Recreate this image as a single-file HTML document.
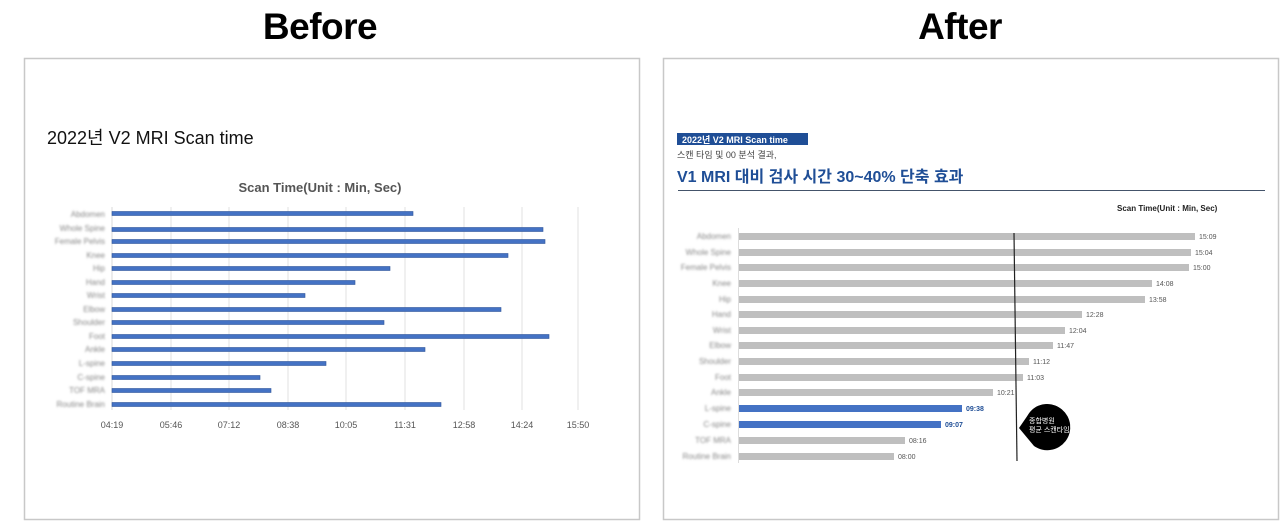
<!DOCTYPE html>
<html><head><meta charset="utf-8"><style>
body{margin:0;width:1280px;height:521px;background:#fff;overflow:hidden;position:relative;font-family:"Liberation Sans","Noto Sans CJK KR",sans-serif}
.h{position:absolute;top:6px;font-size:37px;font-weight:bold;color:#000;width:300px;text-align:center;letter-spacing:-0.5px}
</style></head><body>
<div class="h" style="left:170px">Before</div>
<div class="h" style="left:810px">After</div>
<svg width="1280" height="521" style="position:absolute;left:0;top:0" xmlns="http://www.w3.org/2000/svg" font-family="Liberation Sans, Noto Sans CJK KR, sans-serif">
<defs><filter id="b" x="-10%" y="-50%" width="120%" height="200%"><feGaussianBlur stdDeviation="1.1"/></filter></defs>
<rect x="24.5" y="58.5" width="615" height="461" fill="none" stroke="#c8c8c8" stroke-width="1.5"/>
<rect x="663.5" y="58.5" width="615" height="461" fill="none" stroke="#c8c8c8" stroke-width="1.5"/>
<!-- LEFT -->
<text x="47" y="144" font-size="18" fill="#111" font-family="Liberation Sans Narrow, Liberation Sans, Noto Sans CJK KR, sans-serif">2022년 V2 MRI Scan time</text>
<text x="320" y="192" font-size="13" fill="#555" text-anchor="middle" font-weight="bold">Scan Time(Unit : Min, Sec)</text>
<g stroke="#e2e2e2" stroke-width="1">
<line x1="171" y1="207" x2="171" y2="410"/><line x1="229" y1="207" x2="229" y2="410"/><line x1="288" y1="207" x2="288" y2="410"/><line x1="346" y1="207" x2="346" y2="410"/><line x1="405" y1="207" x2="405" y2="410"/><line x1="464" y1="207" x2="464" y2="410"/><line x1="522" y1="207" x2="522" y2="410"/><line x1="578" y1="207" x2="578" y2="410"/>
</g>
<line x1="112" y1="207" x2="112" y2="410" stroke="#d8d8d8"/>
<g fill="#4472c4" stroke="#2f559a" stroke-width="0.6">
<rect x="112" y="211.5" width="301" height="4"/><rect x="112" y="227.5" width="431" height="4"/><rect x="112" y="239.5" width="433" height="4"/><rect x="112" y="253.5" width="396" height="4"/><rect x="112" y="266.5" width="278" height="4"/><rect x="112" y="280.5" width="243" height="4"/><rect x="112" y="293.5" width="193" height="4"/><rect x="112" y="307.5" width="389" height="4"/><rect x="112" y="320.5" width="272" height="4"/><rect x="112" y="334.5" width="437" height="4"/><rect x="112" y="347.5" width="313" height="4"/><rect x="112" y="361.5" width="214" height="4"/><rect x="112" y="375.5" width="148" height="4"/><rect x="112" y="388.5" width="159" height="4"/><rect x="112" y="402.5" width="329" height="4"/>
</g>
<g font-size="8" fill="#888" text-anchor="end" filter="url(#b)">
<text x="105" y="217">Abdomen</text><text x="105" y="231">Whole Spine</text><text x="105" y="244">Female Pelvis</text><text x="105" y="258">Knee</text><text x="105" y="271">Hip</text><text x="105" y="285">Hand</text><text x="105" y="298">Wrist</text><text x="105" y="312">Elbow</text><text x="105" y="325">Shoulder</text><text x="105" y="339">Foot</text><text x="105" y="352">Ankle</text><text x="105" y="366">L-spine</text><text x="105" y="380">C-spine</text><text x="105" y="393">TOF MRA</text><text x="105" y="407">Routine Brain</text>
</g>
<g font-size="9" fill="#555" text-anchor="middle">
<text x="112" y="428">04:19</text><text x="171" y="428">05:46</text><text x="229" y="428">07:12</text><text x="288" y="428">08:38</text><text x="346" y="428">10:05</text><text x="405" y="428">11:31</text><text x="464" y="428">12:58</text><text x="522" y="428">14:24</text><text x="578" y="428">15:50</text>
</g>
<!-- RIGHT -->
<rect x="677" y="133" width="131" height="12" fill="#1f4e96"/>
<text x="682" y="143" font-size="9" fill="#fff" font-weight="bold">2022년 V2  MRI Scan time</text>
<text x="677" y="158" font-size="9" fill="#444">스캔 타임 및 00 분석 결과,</text>
<text x="677" y="182" font-size="16" fill="#1f4e96" font-weight="bold">V1 MRI 대비 검사 시간 30~40% 단축 효과</text>
<line x1="678" y1="190.5" x2="1265" y2="190.5" stroke="#44546a" stroke-width="1"/>
<text x="1117" y="211" font-size="8" fill="#222" font-weight="bold">Scan Time(Unit : Min, Sec)</text>
<line x1="738.5" y1="228" x2="738.5" y2="463" stroke="#ddd"/>
<g fill="#bfbfbf">
<rect x="739" y="233" width="456" height="7"/><rect x="739" y="249" width="452" height="7"/><rect x="739" y="264" width="450" height="7"/><rect x="739" y="280" width="413" height="7"/><rect x="739" y="296" width="406" height="7"/><rect x="739" y="311" width="343" height="7"/><rect x="739" y="327" width="326" height="7"/><rect x="739" y="342" width="314" height="7"/><rect x="739" y="358" width="290" height="7"/><rect x="739" y="374" width="284" height="7"/><rect x="739" y="389" width="254" height="7"/>
<rect x="739" y="437" width="166" height="7"/><rect x="739" y="453" width="155" height="7"/>
</g>
<g fill="#4472c4"><rect x="739" y="405" width="223" height="7"/><rect x="739" y="421" width="202" height="7"/></g>
<g font-size="7" fill="#555">
<text x="1199" y="239">15:09</text><text x="1195" y="255">15:04</text><text x="1193" y="270">15:00</text><text x="1156" y="286">14:08</text><text x="1149" y="302">13:58</text><text x="1086" y="317">12:28</text><text x="1069" y="333">12:04</text><text x="1057" y="348">11:47</text><text x="1033" y="364">11:12</text><text x="1027" y="380">11:03</text><text x="997" y="395">10:21</text><text x="909" y="443">08:16</text><text x="898" y="459">08:00</text>
</g>
<g font-size="7" fill="#1f4e96" font-weight="bold"><text x="966" y="411">09:38</text><text x="945" y="427">09:07</text></g>
<g font-size="8" fill="#888" text-anchor="end" filter="url(#b)">
<text x="731" y="239">Abdomen</text><text x="731" y="255">Whole Spine</text><text x="731" y="270">Female Pelvis</text><text x="731" y="286">Knee</text><text x="731" y="302">Hip</text><text x="731" y="317">Hand</text><text x="731" y="333">Wrist</text><text x="731" y="348">Elbow</text><text x="731" y="364">Shoulder</text><text x="731" y="380">Foot</text><text x="731" y="395">Ankle</text><text x="731" y="411">L-spine</text><text x="731" y="427">C-spine</text><text x="731" y="443">TOF MRA</text><text x="731" y="459">Routine Brain</text>
</g>
<line x1="1014" y1="233" x2="1017" y2="461" stroke="#222" stroke-width="1.2"/>
<path d="M1019 428 L1030 412 A23 23 0 1 1 1034 446 Z" fill="#000"/>
<circle cx="1047" cy="426" r="22" fill="#000"/>
<text x="1029" y="423" font-size="7" fill="#fff">종합병원</text>
<text x="1029" y="432" font-size="7" fill="#fff">평균 스캔타임</text>
</svg>
</body></html>
